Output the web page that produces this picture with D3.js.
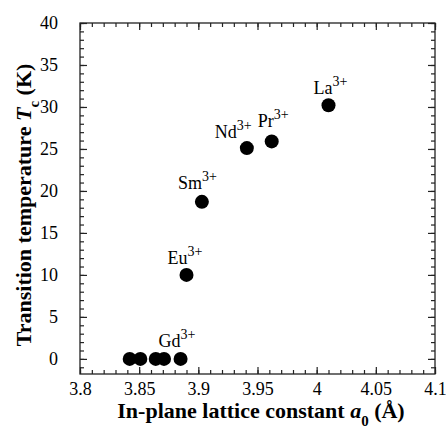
<!DOCTYPE html>
<html>
<head>
<meta charset="utf-8">
<script src="https://cdn.jsdelivr.net/npm/d3@7"></script>
</head>
<body style="margin:0;background:#fff">
<div id="chart"></div>
<script>
// lattice constant a0 (Å) and Tc (K)
const latticeA = [3.842, 3.851, 3.864, 3.871, 3.885, 3.890, 3.903, 3.941, 3.962, 4.010];
const tcValues = [0, 0, 0, 0, 0, 10.0, 18.7, 25.1, 25.9, 30.2];
const ionLabels = ["", "", "", "", "Gd", "Eu", "Sm", "Nd", "Pr", "La"];
const xTicks = [3.8, 3.85, 3.9, 3.95, 4, 4.05, 4.1];
const yTicks = [0, 5, 10, 15, 20, 25, 30, 35, 40];

// where each label sits relative to its dot (px)
const labelOffset = {
    Gd: [-22, -12], Eu: [-19, -11], Sm: [-24, -13],
    Nd: [-32, -10], Pr: [-14, -14], La: [-15, -11]
};

const SERIF = "'Liberation Serif', 'Times New Roman', Times, serif";
const W = 446, H = 430;
const margin = { top: 23, right: 11, bottom: 56, left: 80 },
    width = W - margin.left - margin.right,
    height = H - margin.top - margin.bottom;

const svg = d3.select("#chart").append("svg")
    .attr("width", W)
    .attr("height", H)
    .style("display", "block")
    .style("font-family", SERIF);

const g = svg.append("g")
    .attr("transform", `translate(${margin.left},${margin.top})`);

const x = d3.scaleLinear().domain([3.8, 4.1]).range([0, width]);
const y = d3.scaleLinear().domain([-1.8, 40]).range([height, 0]);

const xMinor = d3.range(3.8, 4.1001, 0.01).map(v => +v.toFixed(2));
const yMinor = d3.range(-1, 41, 1);

const fmtX = d => String(+d.toFixed(2));

function addAxis(axis, tx, ty) {
    const a = g.append("g")
        .attr("transform", `translate(${tx},${ty})`)
        .call(axis);
    a.select(".domain").remove();
    a.selectAll("line").attr("stroke", "#222").attr("stroke-width", 1.2);
    a.selectAll("text")
        .attr("font-family", SERIF)
        .attr("font-size", 18)
        .attr("fill", "#000");
    return a;
}

// bottom
addAxis(d3.axisBottom(x).tickValues(xMinor).tickSize(-4).tickFormat(""), 0, height);
addAxis(d3.axisBottom(x).tickValues(xTicks).tickSize(-7).tickPadding(8).tickFormat(fmtX), 0, height);
// top
addAxis(d3.axisTop(x).tickValues(xMinor).tickSize(-4).tickFormat(""), 0, 0);
addAxis(d3.axisTop(x).tickValues(xTicks).tickSize(-7).tickFormat(""), 0, 0);
// left
addAxis(d3.axisLeft(y).tickValues(yMinor).tickSize(-4).tickFormat(""), 0, 0);
addAxis(d3.axisLeft(y).tickValues(yTicks).tickSize(-7).tickPadding(22), 0, 0);
// right
addAxis(d3.axisRight(y).tickValues(yMinor).tickSize(-4).tickFormat(""), width, 0);
addAxis(d3.axisRight(y).tickValues(yTicks).tickSize(-7).tickFormat(""), width, 0);

g.append("rect")
    .attr("width", width)
    .attr("height", height)
    .attr("fill", "none")
    .attr("stroke", "#222")
    .attr("stroke-width", 1.3);

const pts = latticeA.map((a, i) => ({ a: a, tc: tcValues[i], ion: ionLabels[i] }));

g.selectAll(".dot")
    .data(pts)
    .enter().append("circle")
    .attr("class", "dot")
    .attr("cx", d => x(d.a))
    .attr("cy", d => y(d.tc))
    .attr("r", 7)
    .attr("fill", "#000");

const lab = g.selectAll(".ion")
    .data(pts.filter(d => d.ion))
    .enter().append("text")
    .attr("class", "ion")
    .attr("x", d => x(d.a) + labelOffset[d.ion][0])
    .attr("y", d => y(d.tc) + labelOffset[d.ion][1])
    .attr("font-family", SERIF)
    .attr("font-size", 18);
lab.append("tspan").text(d => d.ion);
lab.append("tspan").attr("dy", -8).attr("font-size", 14).text("3+");

// axis titles
const xt = svg.append("text")
    .attr("x", 261)
    .attr("y", 418)
    .attr("text-anchor", "middle")
    .attr("font-family", SERIF)
    .attr("font-size", 22)
    .attr("font-weight", "bold");
xt.append("tspan").text("In-plane lattice constant ");
xt.append("tspan").attr("font-style", "italic").text("a");
xt.append("tspan").attr("dy", 8).attr("font-size", 15).text("0");
xt.append("tspan").attr("dy", -8).text(" (\u00C5)");

const yt = svg.append("text")
    .attr("transform", "translate(31,205) rotate(-90)")
    .attr("text-anchor", "middle")
    .attr("font-family", SERIF)
    .attr("font-size", 22)
    .attr("font-weight", "bold");
yt.append("tspan").text("Transition temperature ");
yt.append("tspan").attr("font-style", "italic").text("T");
yt.append("tspan").attr("dy", 8).attr("font-size", 15).text("c");
yt.append("tspan").attr("dy", -8).text(" (K)");
</script>
</body>
</html>
